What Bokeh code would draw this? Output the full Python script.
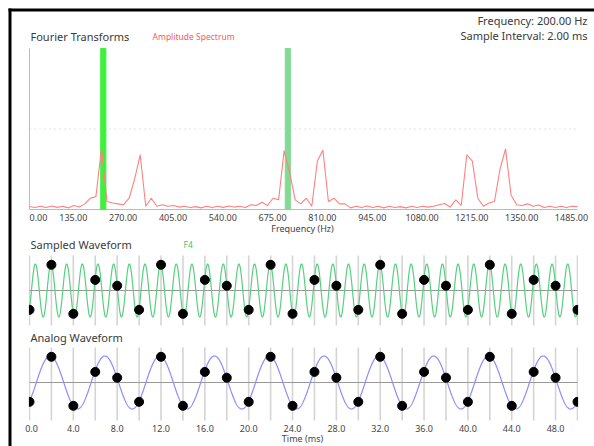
import numpy as np
from bokeh.plotting import figure
from bokeh.models import Range1d
from bokeh.core.properties import value
from bokeh.embed import file_html
from bokeh.resources import INLINE

# ---- data ----
SIGNAL_HZ = 200.0          # "Frequency: 200.00 Hz"
SAMPLE_MS = 2.0            # "Sample Interval: 2.00 ms"
ALIAS_HZ = 700.0           # F4 alias shown in the sampled panel
PHASE_DEG = -45.0          # phase of the analog waveform at t = 0

SPEC_STEP_HZ = 15
SPECTRUM = [0.019, 0.012, 0.02, 0.012, 0.022, 0.013, 0.02, 0.01, 0.025, 0.015,
            0.035, 0.07, 0.08, 0.377, 0.05, 0.04, 0.035, 0.03, 0.07, 0.19,
            0.34, 0.02, 0.07, 0.02, 0.03, 0.02, 0.025, 0.015, 0.02, 0.012,
            0.018, 0.01, 0.02, 0.012, 0.02, 0.013, 0.022, 0.015, 0.02, 0.012,
            0.03, 0.025, 0.045, 0.025, 0.07, 0.06, 0.366, 0.23, 0.06, 0.035,
            0.07, 0.02, 0.3, 0.37, 0.05, 0.07, 0.035, 0.035, 0.01, 0.02,
            0.012, 0.022, 0.012, 0.02, 0.01, 0.02, 0.012, 0.018, 0.01, 0.02,
            0.012, 0.02, 0.015, 0.02, 0.03, 0.037, 0.015, 0.06, 0.025, 0.34,
            0.30, 0.07, 0.02, 0.04, 0.05, 0.25, 0.377, 0.09, 0.03, 0.025,
            0.035, 0.02, 0.028, 0.012, 0.02, 0.012, 0.02, 0.012, 0.02, 0.018]
SPEC_FREQS = [i * SPEC_STEP_HZ for i in range(len(SPECTRUM))]
MARKER_FREQS = [200, 700]
MARKER_COLORS = ["#3ff03f", "#84da94"]
SPEC_MAX_HZ = 1485
SPEC_REF_LEVEL = 0.5
TIME_MAX_MS = 50

FREQ_TICKS = [0, 135, 270, 405, 540, 675, 810, 945, 1080, 1215, 1350, 1485]
TIME_TICKS = [0, 4, 8, 12, 16, 20, 24, 28, 32, 36, 40, 44, 48]
SAMPLE_TIMES = [0, 2, 4, 6, 8, 10, 12, 14, 16, 18, 20, 22, 24, 26, 28, 30,
                32, 34, 36, 38, 40, 42, 44, 46, 48, 50]
SAMPLE_VALUES = [-0.73, 0.97, -0.88, 0.40, 0.18,
                 -0.73, 0.97, -0.88, 0.40, 0.18,
                 -0.73, 0.97, -0.88, 0.40, 0.18,
                 -0.73, 0.97, -0.88, 0.40, 0.18,
                 -0.73, 0.97, -0.88, 0.40, 0.18,
                 -0.73]

# ---- layout (canvas pixels) ----
W, H = 594, 446
PL, PR = 29, 577                 # plot left / right
SPEC_Y0, SPEC_S = 209, 161.0     # spectrum zero line, px per unit
SAMP_Y0, AMP_S = 290, 26.5       # sampled panel zero line, px per unit
ANAL_Y0 = 382                    # analog panel zero line
SAMP_TOP, SAMP_BOT = 255, 325
ANAL_TOP, ANAL_BOT = 347, 420
BOX = 8                          # outer box corner

FONT = "Noto Sans"
TXT = "#3a3a3a"
AX = "#444444"


def xrange_for(v0, v1):
    k = (v1 - v0) / (PR - PL)
    return Range1d(v0 - PL * k, v1 + (W - PR) * k)


def yrange_for(y0, s):
    return Range1d(-(H - y0) / s, y0 / s)


def fx(px):   # canvas x -> Hz
    return (px - PL) * SPEC_MAX_HZ / (PR - PL)


def tx(px):   # canvas x -> ms
    return (px - PL) * TIME_MAX_MS / (PR - PL)


def vy(py, y0, s):
    return (y0 - py) / s


t_ms = np.linspace(0, TIME_MAX_MS, 3001)
analog = np.sin(2 * np.pi * SIGNAL_HZ * t_ms / 1000.0 + np.radians(PHASE_DEG))
alias = np.sin(2 * np.pi * ALIAS_HZ * t_ms / 1000.0 + np.radians(PHASE_DEG))

p = figure(width=W, height=H, output_backend="svg", toolbar_location=None,
           x_range=xrange_for(0, SPEC_MAX_HZ), y_range=yrange_for(SPEC_Y0, SPEC_S),
           x_axis_location=None, y_axis_location=None,
           min_border=0, min_border_left=0, min_border_right=0,
           min_border_top=0, min_border_bottom=0)
p.extra_x_ranges = {"time": xrange_for(0, TIME_MAX_MS)}
p.extra_y_ranges = {"samp": yrange_for(SAMP_Y0, AMP_S), "anal": yrange_for(ANAL_Y0, AMP_S)}
p.grid.visible = False
p.outline_line_color = None
p.background_fill_color = "white"
p.border_fill_color = "white"


def text(x, y, t, size, color, align="left", xr="default", yr="default", x_offset=0):
    p.text(x=x, y=y, text=t, text_font=value(FONT), text_font_size=value(size),
           text_color=color, text_align=align, text_baseline="middle",
           x_offset=x_offset, x_range_name=xr, y_range_name=yr)


# ---------------- spectrum panel ----------------
p.segment(x0=[0], y0=[SPEC_REF_LEVEL], x1=[SPEC_MAX_HZ], y1=[SPEC_REF_LEVEL],
          line_color="#c8c8c8", line_dash="1 4")
p.segment(x0=[0, 0], y0=[0, 0], x1=[0, SPEC_MAX_HZ], y1=[1, 0], line_color="#bbbbbb")
p.vbar(x=MARKER_FREQS, width=14, top=1, bottom=0, color=MARKER_COLORS)
p.line(SPEC_FREQS, SPECTRUM, line_color="#ff8080", line_width=1.1)

ty = vy(217, SPEC_Y0, SPEC_S)
text(FREQ_TICKS[:1], [ty], ["%.2f" % v for v in FREQ_TICKS[:1]], "9px", AX, "left")
text(FREQ_TICKS[1:], [ty] * (len(FREQ_TICKS) - 1), ["%.2f" % v for v in FREQ_TICKS[1:]],
     "9px", AX, "center", x_offset=-6)
text([fx(302)], [vy(228, SPEC_Y0, SPEC_S)], ["Frequency (Hz)"], "9px", AX, "center")
text([fx(30)], [vy(36, SPEC_Y0, SPEC_S)], ["Fourier Transforms"], "11px", TXT)
text([fx(152)], [vy(36, SPEC_Y0, SPEC_S)], ["Amplitude Spectrum"], "8.5px", "#ff5a5a")
text([fx(587)], [vy(20, SPEC_Y0, SPEC_S)], ["Frequency: %.2f Hz" % SIGNAL_HZ], "11px", TXT, "right")
text([fx(587)], [vy(35, SPEC_Y0, SPEC_S)], ["Sample Interval: %.2f ms" % SAMPLE_MS], "11px", TXT, "right")

# ---------------- sampled panel ----------------
st, sb = vy(SAMP_TOP, SAMP_Y0, AMP_S), vy(SAMP_BOT, SAMP_Y0, AMP_S)
p.segment(x0=SAMPLE_TIMES, y0=[sb] * len(SAMPLE_TIMES), x1=SAMPLE_TIMES, y1=[st] * len(SAMPLE_TIMES),
          line_color="#d4d4d4", line_width=1.6, x_range_name="time", y_range_name="samp")
p.segment(x0=[0], y0=[0], x1=[TIME_MAX_MS], y1=[0], line_color="#999999",
          x_range_name="time", y_range_name="samp")
p.line(t_ms, alias, line_color="#55d07e", line_width=1.2, x_range_name="time", y_range_name="samp")
p.scatter(SAMPLE_TIMES, SAMPLE_VALUES, size=9, color="black", x_range_name="time", y_range_name="samp")
text([tx(30)], [vy(244, SAMP_Y0, AMP_S)], ["Sampled Waveform"], "11px", TXT, xr="time", yr="samp")
text([tx(183)], [vy(244, SAMP_Y0, AMP_S)], ["F4"], "8.5px", "#3ec46a", xr="time", yr="samp")

# ---------------- analog panel ----------------
at, ab = vy(ANAL_TOP, ANAL_Y0, AMP_S), vy(ANAL_BOT, ANAL_Y0, AMP_S)
p.segment(x0=SAMPLE_TIMES, y0=[ab] * len(SAMPLE_TIMES), x1=SAMPLE_TIMES, y1=[at] * len(SAMPLE_TIMES),
          line_color="#d4d4d4", line_width=1.6, x_range_name="time", y_range_name="anal")
p.segment(x0=[0], y0=[0], x1=[TIME_MAX_MS], y1=[0], line_color="#999999",
          x_range_name="time", y_range_name="anal")
p.line(t_ms, analog, line_color="#8c8cff", line_width=1.2, x_range_name="time", y_range_name="anal")
p.scatter(SAMPLE_TIMES, SAMPLE_VALUES, size=9, color="black", x_range_name="time", y_range_name="anal")
tty = vy(428, ANAL_Y0, AMP_S)
text(TIME_TICKS[:1], [tty], ["%.1f" % v for v in TIME_TICKS[:1]], "9px", AX, "center",
     xr="time", yr="anal", x_offset=2)
text(TIME_TICKS[1:], [tty] * (len(TIME_TICKS) - 1), ["%.1f" % v for v in TIME_TICKS[1:]],
     "9px", AX, "center", xr="time", yr="anal")
text([tx(302)], [vy(438, ANAL_Y0, AMP_S)], ["Time (ms)"], "9px", AX, "center", xr="time", yr="anal")
text([tx(30)], [vy(337, ANAL_Y0, AMP_S)], ["Analog Waveform"], "11px", TXT, xr="time", yr="anal")

# ---------------- clip the waveform panels to their plot area ----------------
for yname, top_px, bot_px, y0 in (("samp", SAMP_TOP, SAMP_BOT, SAMP_Y0), ("anal", ANAL_TOP, ANAL_BOT, ANAL_Y0)):
    p.quad(left=[tx(BOX + 4), tx(PR + 0.6)], right=[tx(PL - 0.6), tx(W)],
           top=[vy(top_px, y0, AMP_S)] * 2, bottom=[vy(bot_px, y0, AMP_S)] * 2,
           fill_color="white", line_color=None, x_range_name="time", y_range_name=yname)

# ---------------- border of the box ----------------
p.segment(x0=[fx(BOX)], y0=[vy(BOX + 1.5, SPEC_Y0, SPEC_S)], x1=[fx(W)], y1=[vy(BOX + 1.5, SPEC_Y0, SPEC_S)],
          line_color="black", line_width=3)
p.segment(x0=[fx(BOX + 1.5)], y0=[vy(BOX, SPEC_Y0, SPEC_S)], x1=[fx(BOX + 1.5)], y1=[vy(H, SPEC_Y0, SPEC_S)],
          line_color="black", line_width=3)

open("out.html", "w").write(file_html(p, INLINE))
